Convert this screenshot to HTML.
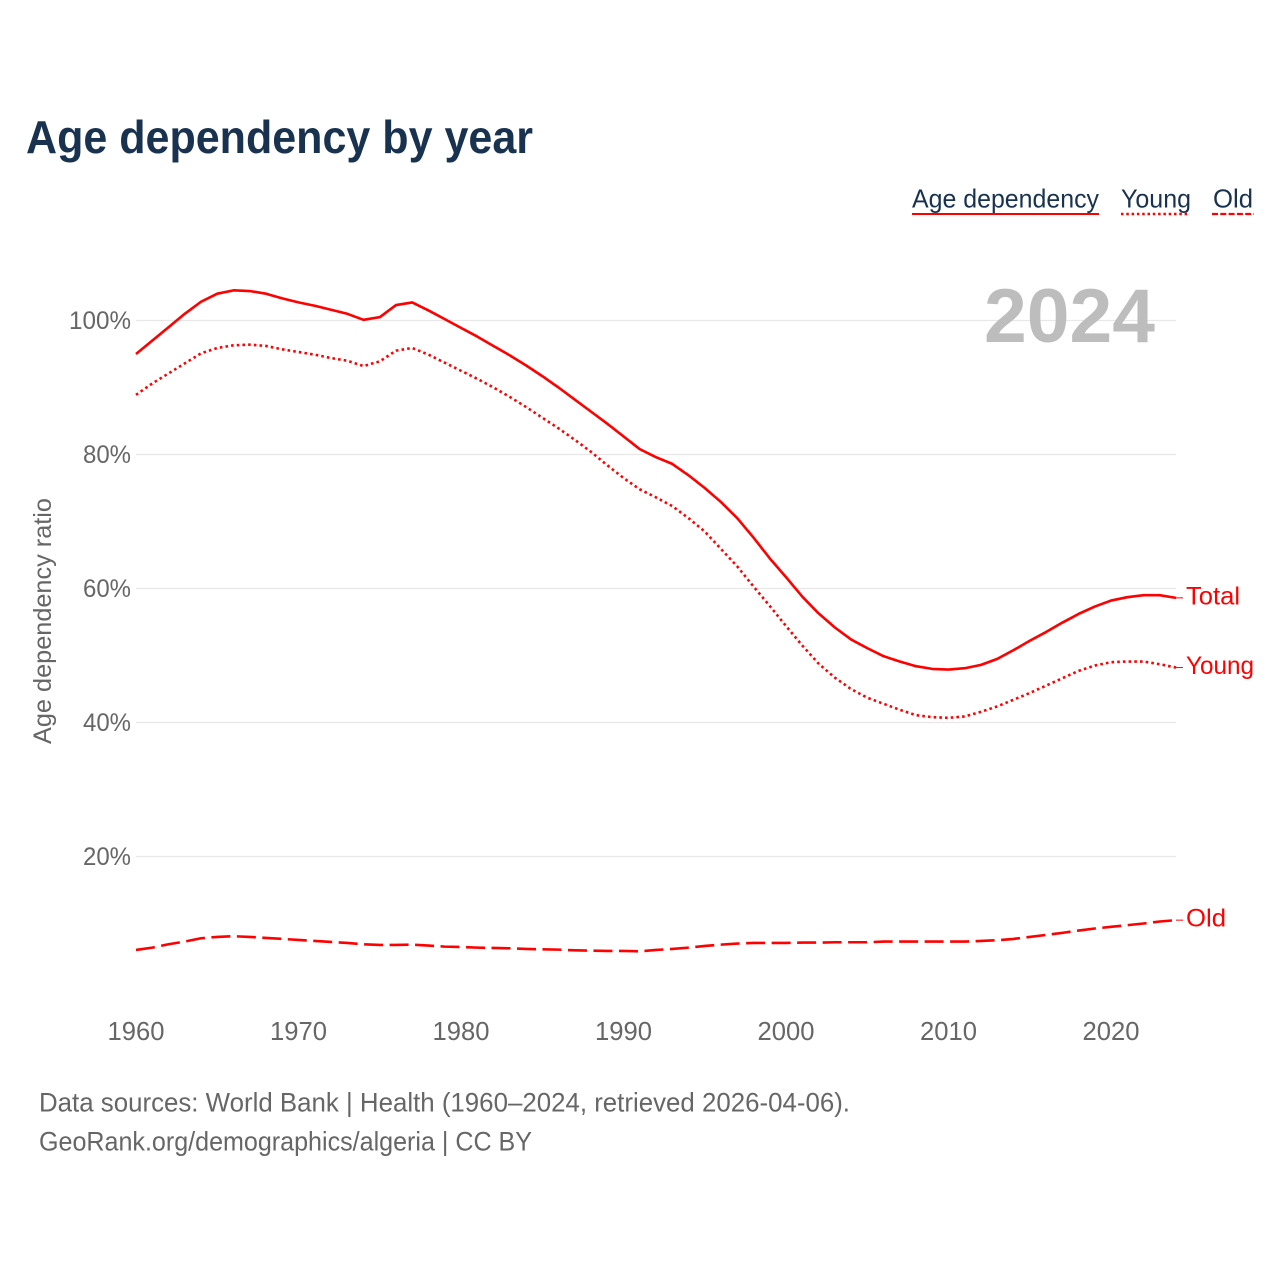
<!DOCTYPE html>
<html lang="en">
<head>
<meta charset="utf-8">
<title>Age dependency by year</title>
<style>
html,body{margin:0;padding:0;background:#fff;}
svg{display:block;font-family:"Liberation Sans",sans-serif;}
</style>
</head>
<body>
<svg id="chart" xmlns="http://www.w3.org/2000/svg" width="1280" height="1280" viewBox="0 0 1280 1280">
  <rect x="0" y="0" width="1280" height="1280" fill="#ffffff"/>
  <text x="26" y="153" font-size="46" font-weight="700" fill="#18324f" textLength="507" lengthAdjust="spacingAndGlyphs">Age dependency by year</text>

  <g>
    <g>
      <text x="912" y="207.5" font-size="26" fill="#18324f" textLength="187" lengthAdjust="spacingAndGlyphs">Age dependency</text>
      <line x1="912" x2="1099" y1="214" y2="214" stroke="#ff0000" stroke-width="2"/>
    </g>
    <g>
      <text x="1121" y="207.5" font-size="26" fill="#18324f" textLength="70" lengthAdjust="spacingAndGlyphs">Young</text>
      <line x1="1121" x2="1190" y1="214" y2="214" stroke="#ff0000" stroke-width="2.4" stroke-dasharray="2.5 2.8"/>
    </g>
    <g>
      <text x="1213" y="207.5" font-size="26" fill="#18324f" textLength="40" lengthAdjust="spacingAndGlyphs">Old</text>
      <line x1="1212" x2="1254" y1="214" y2="214" stroke="#ff0000" stroke-width="2.2" stroke-dasharray="6 2.3"/>
    </g>
  </g>

  <g id="grid"></g>
  <text x="984" y="342" font-size="76" font-weight="700" fill="#bdbdbd" textLength="171" lengthAdjust="spacingAndGlyphs">2024</text>
  <g id="yticks"></g>
  <g id="xticks"></g>
  <text x="0" y="0" transform="translate(51,744) rotate(-90)" font-size="25" fill="#666666" textLength="246" lengthAdjust="spacingAndGlyphs">Age dependency ratio</text>
  <g id="series"></g>

  <g>
    <text x="39" y="1111.5" font-size="27" fill="#666666" textLength="811" lengthAdjust="spacingAndGlyphs">Data sources: World Bank | Health (1960–2024, retrieved 2026-04-06).</text>
    <text x="39" y="1150.5" font-size="27" fill="#666666" textLength="493" lengthAdjust="spacingAndGlyphs">GeoRank.org/demographics/algeria | CC BY</text>
  </g>
</svg>

<script>
const firstYear = 1960;
const lastYear = 2024;
const yTickValues = [20, 40, 60, 80, 100];
const yTickLabels = ['20%', '40%', '60%', '80%', '100%'];
const xTickYears = [1960, 1970, 1980, 1990, 2000, 2010, 2020];
const xTickLabels = ['1960', '1970', '1980', '1990', '2000', '2010', '2020'];

const totalValues = [95.0,97.0,99.0,101.0,102.8,104.0,104.5,104.4,104.0,103.3,102.7,102.2,101.6,101.0,100.1,100.5,102.3,102.7,101.5,100.2,98.9,97.6,96.2,94.8,93.3,91.7,90.0,88.2,86.4,84.6,82.7,80.8,79.6,78.6,76.9,75.0,72.9,70.5,67.6,64.5,61.7,58.8,56.3,54.2,52.4,51.1,49.9,49.1,48.4,48.0,47.9,48.1,48.6,49.5,50.8,52.2,53.5,54.9,56.2,57.3,58.2,58.7,59.0,59.0,58.6];
const youngValues = [88.9,90.6,92.1,93.6,95.1,95.9,96.3,96.4,96.2,95.7,95.3,94.9,94.4,94.0,93.2,93.9,95.5,95.9,94.9,93.7,92.5,91.3,90.0,88.6,87.1,85.5,83.9,82.2,80.4,78.4,76.5,74.8,73.6,72.3,70.5,68.5,65.9,63.3,60.3,57.4,54.4,51.5,48.8,46.7,45.0,43.7,42.8,41.9,41.1,40.8,40.7,40.9,41.6,42.4,43.4,44.4,45.5,46.6,47.7,48.5,49.0,49.1,49.1,48.7,48.2];
const oldValues = [6.05,6.4,6.9,7.3,7.8,8.0,8.1,8.0,7.85,7.7,7.55,7.4,7.25,7.1,6.9,6.8,6.8,6.85,6.7,6.55,6.5,6.4,6.35,6.3,6.2,6.15,6.1,6.0,5.95,5.9,5.9,5.85,6.05,6.2,6.4,6.65,6.85,7.0,7.1,7.1,7.1,7.15,7.15,7.2,7.2,7.2,7.3,7.3,7.3,7.3,7.3,7.3,7.4,7.5,7.7,8.0,8.3,8.6,8.95,9.25,9.5,9.75,10.0,10.3,10.5];

const SVG_NS = 'http://www.w3.org/2000/svg';
const plotLeft = 136;
const plotRight = 1176;
const pxPerUnit = 6.7;
const zeroY = 990.5;

function xScale(year) {
  return plotLeft + (year - firstYear) * (plotRight - plotLeft) / (lastYear - firstYear);
}
function yScale(value) {
  return zeroY - value * pxPerUnit;
}
function svgEl(tag, attrs) {
  const el = document.createElementNS(SVG_NS, tag);
  Object.keys(attrs).forEach(function (k) { el.setAttribute(k, attrs[k]); });
  return el;
}

const gridGroup = document.getElementById('grid');
const yTickGroup = document.getElementById('yticks');
const xTickGroup = document.getElementById('xticks');
const seriesGroup = document.getElementById('series');

yTickValues.forEach(function (v, i) {
  const line = svgEl('line', {x1: plotLeft, x2: plotRight, y1: yScale(v), y2: yScale(v), stroke: '#e8e8e8', 'stroke-width': 1.3});
  
  
  gridGroup.appendChild(line);

  const label = svgEl('text', {x: 131, y: yScale(v) + 8.5, 'text-anchor': 'end', 'font-size': 25, fill: '#666666', textLength: yTickLabels[i].length * 14 + 6, lengthAdjust: 'spacingAndGlyphs'});
  
  
  label.textContent = yTickLabels[i];
  yTickGroup.appendChild(label);
});

xTickYears.forEach(function (year, i) {
  const label = svgEl('text', {x: xScale(year), y: 1040, 'text-anchor': 'middle', 'font-size': 25.6, fill: '#666666'});
  
  
  label.textContent = xTickLabels[i];
  xTickGroup.appendChild(label);
});

function drawSeries(values, dash, title, titleWidth) {
  const d = values.map(function (v, i) {
    return (i ? 'L' : 'M') + xScale(firstYear + i).toFixed(2) + ' ' + yScale(v).toFixed(2);
  }).join(' ');
  const path = svgEl('path', {d: d, fill: 'none', stroke: '#ff0000', 'stroke-width': 2.6, 'stroke-linejoin': 'round'});
  if (dash) path.setAttribute('stroke-dasharray', dash);
  
  
  seriesGroup.appendChild(path);

  const endY = yScale(values[values.length - 1]);
  const connector = svgEl('line', {x1: plotRight, x2: 1183, y1: endY, y2: endY, stroke: '#ff0000', 'stroke-width': 1});
  
  
  seriesGroup.appendChild(connector);

  const label = svgEl('text', {x: 1186, y: endY + 6.5, 'font-size': 25, fill: '#ff0000', textLength: titleWidth, lengthAdjust: 'spacingAndGlyphs'});
  
  
  label.textContent = title;
  seriesGroup.appendChild(label);
}

drawSeries(totalValues, null, 'Total', 54);
drawSeries(youngValues, '2.6 3.1', 'Young', 68);
drawSeries(oldValues, '19 6.5', 'Old', 40);
</script>
</body>
</html>
